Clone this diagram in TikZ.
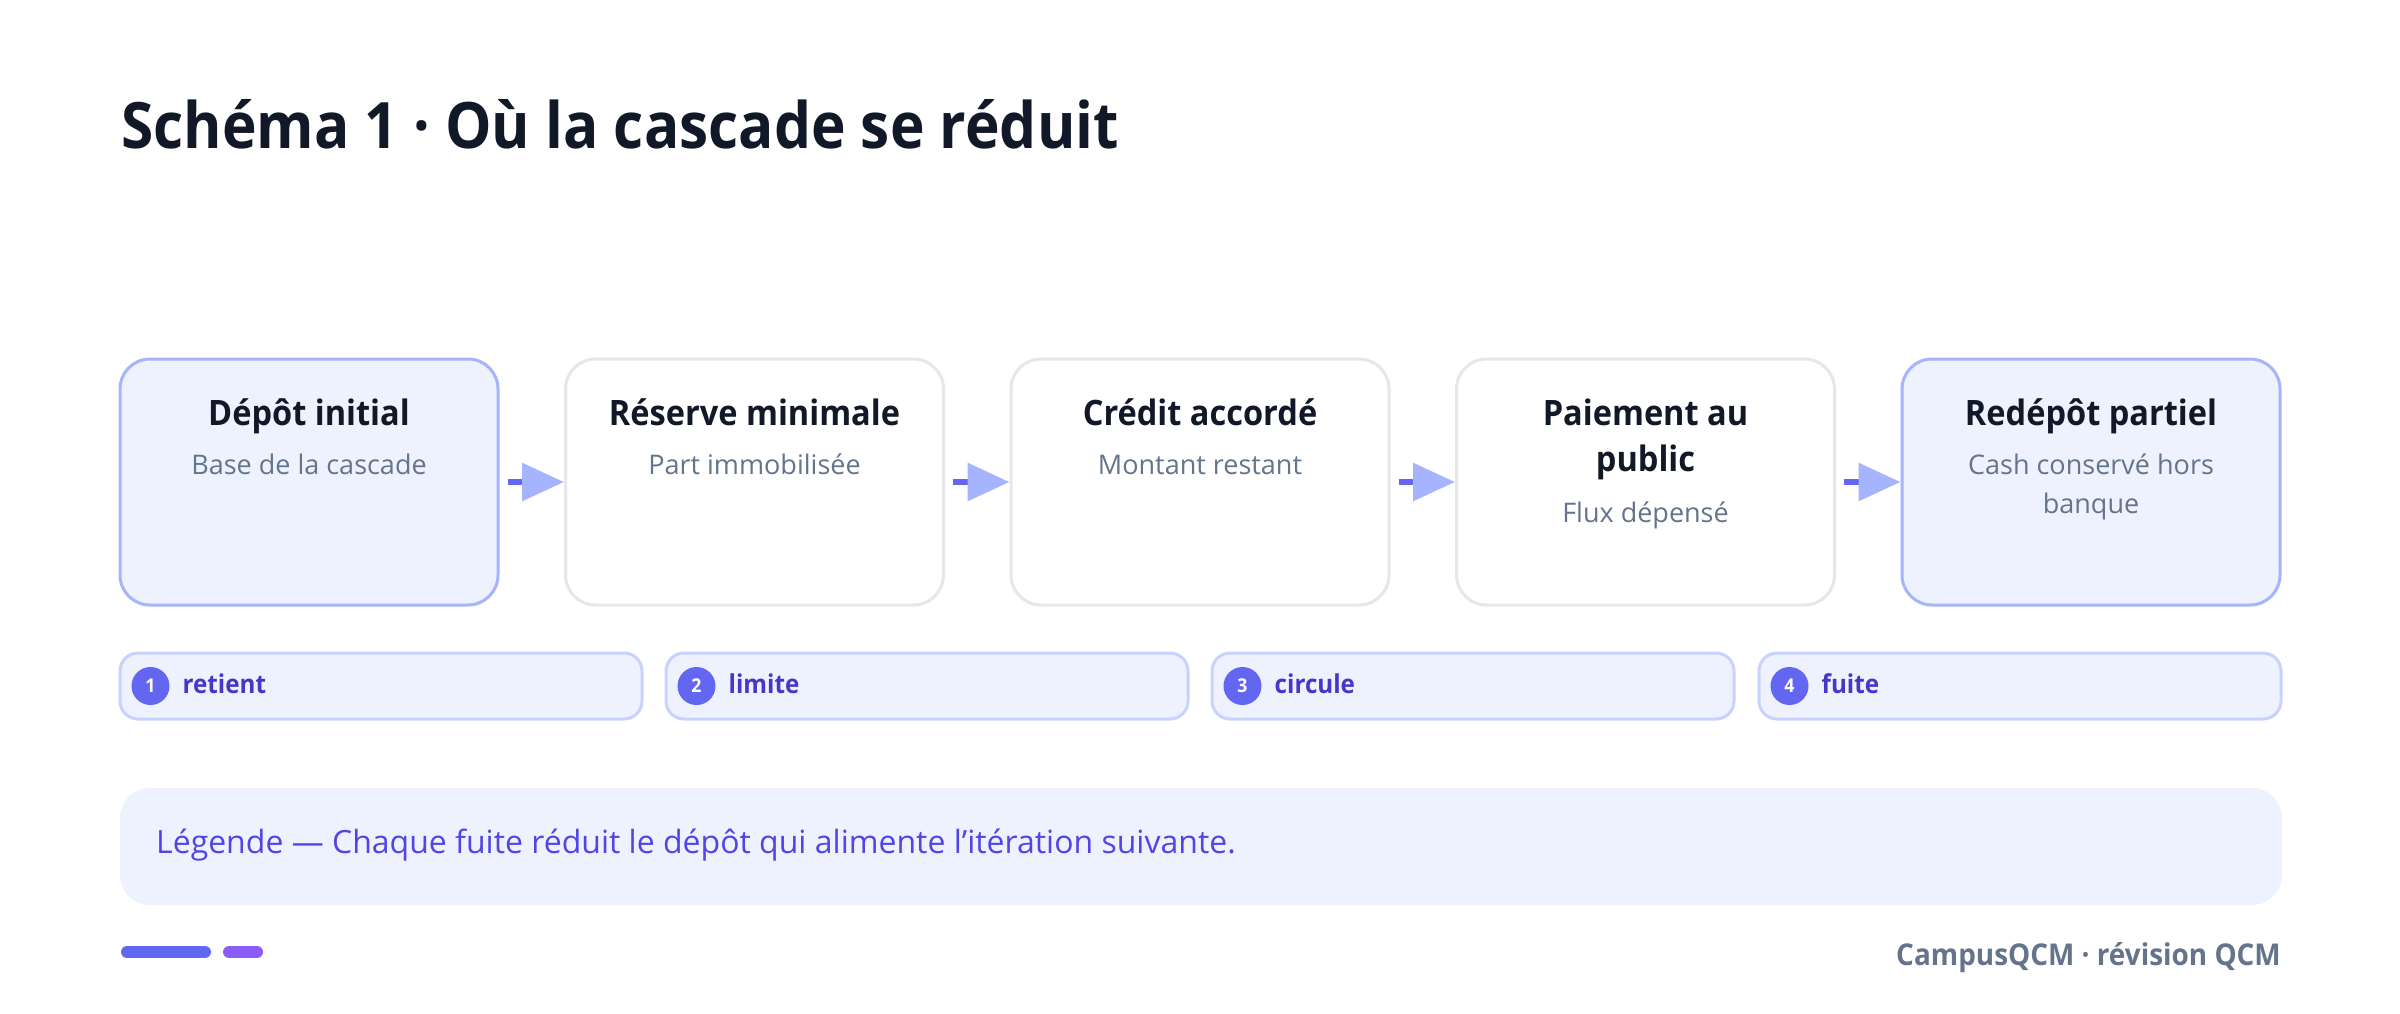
\documentclass[tikz,border=0pt]{standalone}
\usepackage{fontspec}
\setmainfont{Open Sans}[BoldFeatures={FakeStretch=0.93}]
\newfontfamily\titlefont{Open Sans}[UprightFont={* Bold}, UprightFeatures={FakeStretch=0.915}]
\usetikzlibrary{arrows.meta}
\definecolor{ink}{HTML}{111827}
\definecolor{slate}{HTML}{64748B}
\definecolor{softfill}{HTML}{EEF2FF}
\definecolor{softline}{HTML}{A5B4FC}
\definecolor{greyline}{HTML}{E5E7EB}
\definecolor{pillline}{HTML}{C7D2FE}
\definecolor{indigo}{HTML}{6366F1}
\definecolor{pilltext}{HTML}{4338CA}
\definecolor{legtext}{HTML}{4F46E5}
\definecolor{violet}{HTML}{8B5CF6}
\tikzset{
  card/.style={draw=greyline, fill=white, line width=3pt, rounded corners=30pt,
    minimum width=378pt, minimum height=246pt, inner sep=0pt},
  hicard/.style={card, draw=softline, fill=softfill},
  cardtitle/.style={anchor=base, align=center, font=\fontsize{35}{46}\selectfont\bfseries, text=ink, inner sep=0pt},
  cardsub/.style={anchor=base, align=center, font=\fontsize{27}{39}\selectfont, text=slate, inner sep=0pt},
  flow/.style={line width=6pt, draw=indigo, shorten <=8pt,
    -{Triangle[length=42pt,width=37pt,color=softline,fill=softline]}},
  pill/.style={draw=pillline, fill=softfill, line width=3pt, rounded corners=18pt,
    minimum width=522pt, minimum height=66pt, inner sep=0pt},
  badge/.style={circle, fill=indigo, minimum size=38pt, inner sep=0pt,
    text=white, font=\fontsize{19}{19}\selectfont\bfseries},
  pilllabel/.style={anchor=base west, inner sep=0pt, text=pilltext,
    font=\fontsize{26}{26}\selectfont\bfseries},
}
\begin{document}
\begin{tikzpicture}[x=1pt,y=-1pt]
\useasboundingbox (0,0) rectangle (2400,1013);
\fill[white] (0,0) rectangle (2400,1013);
% title
\node[anchor=base west, inner sep=0pt, text=ink, font=\fontsize{64}{64}\titlefont]
  (title) at (121,148) {Schéma 1 · Où la cascade se réduit};
% cards
\node[hicard] (b1) at (309,482) {};
\node[card]   (b2) at (754.5,482) {};
\node[card]   (b3) at (1200,482) {};
\node[card]   (b4) at (1645.5,482) {};
\node[hicard] (b5) at (2091,482) {};
\node[cardtitle] (t1) at (309,425) {Dépôt initial};
\node[cardsub]   (s1) at (309,474) {Base de la cascade};
\node[cardtitle] (t2) at (754.5,425) {Réserve minimale};
\node[cardsub]   (s2) at (754.5,474) {Part immobilisée};
\node[cardtitle] (t3) at (1200,425) {Crédit accordé};
\node[cardsub]   (s3) at (1200,474) {Montant restant};
\node[cardtitle] (t4) at (1645.5,471) {Paiement au\\public};
\node[cardsub]   (s4) at (1645.5,522) {Flux dépensé};
\node[cardtitle] (t5) at (2091,425) {Redépôt partiel};
\node[cardsub]   (s5) at (2091,513) {Cash conservé hors\\banque};
% arrows
\draw[flow] (b1.east) -- (b2.west);
\draw[flow] (b2.east) -- (b3.west);
\draw[flow] (b3.east) -- (b4.west);
\draw[flow] (b4.east) -- (b5.west);
% pills
\node[pill] (p1) at (381,686) {};
\node[pill] (p2) at (927,686) {};
\node[pill] (p3) at (1473,686) {};
\node[pill] (p4) at (2020,686) {};
\foreach \p/\n/\t in {p1/1/retient, p2/2/limite, p3/3/circule, p4/4/fuite}{
  \node[badge] (\p n) at ([xshift=32pt]\p.west) {\n};
  \node[pilllabel] (\p t) at ([xshift=64pt,yshift=-7pt]\p.west) {\t};
}
% legend
\node[fill=softfill, rounded corners=30pt, minimum width=2162pt, minimum height=117pt, inner sep=0pt]
  (leg) at (1201,846.5) {};
\node[anchor=base west, inner sep=0pt, text=legtext, font=\fontsize{32}{32}\selectfont]
  (legt) at (156,853) {Légende — Chaque fuite réduit le dépôt qui alimente l'itération suivante.};
% footer
\draw[line width=12pt, line cap=round, indigo] (127,952) -- (205,952);
\draw[line width=12pt, line cap=round, violet] (229,952) -- (257,952);
\node[anchor=base east, inner sep=0pt, text=slate, font=\fontsize{30}{30}\selectfont\bfseries]
  (foot) at (2281,965) {CampusQCM · révision QCM};
\end{tikzpicture}
\end{document}
